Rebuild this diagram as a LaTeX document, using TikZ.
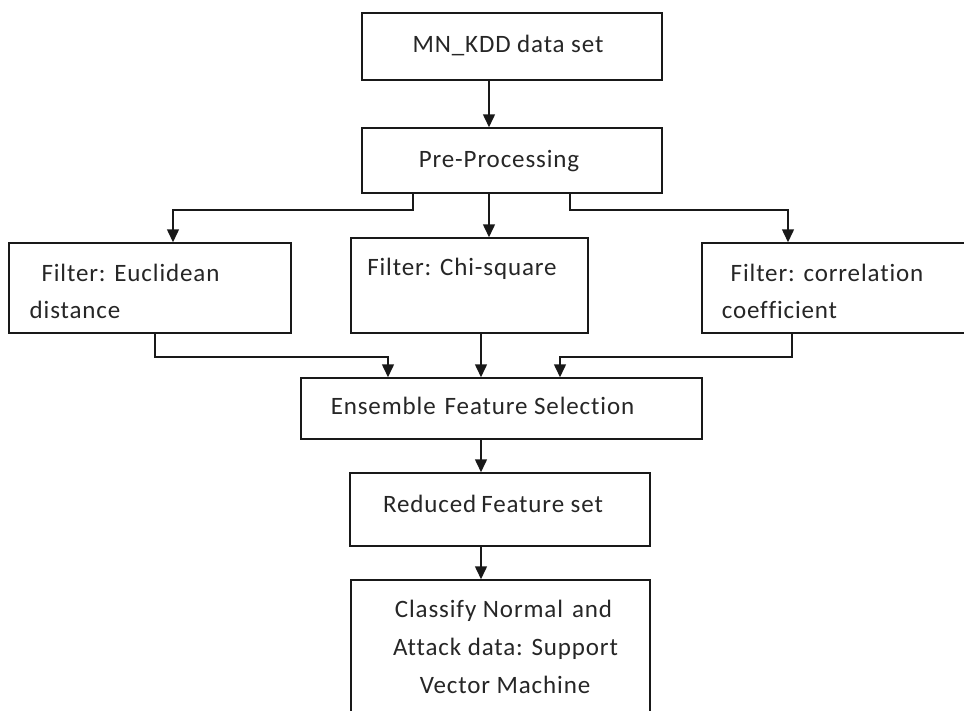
\documentclass[tikz,border=0pt]{standalone}
\usepackage{fontspec}
\setmainfont{Carlito}[Ligatures={NoCommon}, LetterSpace=3.5]
\usetikzlibrary{arrows.meta}
\begin{document}
\begin{tikzpicture}[x=1pt,y=-1pt,
  box/.style={draw=black!90, line width=1.5pt, inner sep=0pt, fill=white},
  lbl/.style={anchor=base, inner sep=0pt, font=\fontsize{25}{29}\selectfont, text=black!85},
  conn/.style={draw=black!90, line width=1.5pt},
  arr/.style={conn, -{Triangle[length=13pt,width=12pt]}}]
\useasboundingbox (0,0) rectangle (964,710);
\begin{scope}
\clip (0,0) rectangle (964,710);
% boxes
\node[box, minimum width=300pt, minimum height=67pt] (data) at (512,46.5) {};
\node[box, minimum width=300pt, minimum height=65pt] (pre) at (512,160.5) {};
\node[box, minimum width=282pt, minimum height=90pt] (eu) at (150,288) {};
\node[box, minimum width=237pt, minimum height=95pt] (chi) at (469.5,285.5) {};
\node[box, minimum width=268pt, minimum height=90pt] (cor) at (836,288) {};
\node[box, minimum width=401pt, minimum height=61pt] (ens) at (501.5,408.5) {};
\node[box, minimum width=300pt, minimum height=73pt] (red) at (500,509.5) {};
\node[box, minimum width=299pt, minimum height=135pt] (cls) at (500.5,647.5) {};
% texts
\node[lbl] (tdata) at (508,52) {MN\_KDD data set};
\node[lbl] (tpre) at (499,167) {Pre-Processing};
\node[lbl] (teu1) at (130.5,281) {Filter: Euclidean};
\node[lbl] (teu2) at (75,318) {distance};
\node[lbl] (tchi) at (462,275) {Filter: Chi-square};
\node[lbl] (tcor1) at (827,281) {Filter: correlation};
\node[lbl] (tcor2) at (779.5,318) {coefficient};
\node[lbl] (tens) at (482.5,414) {Ensemble\hspace{9pt}Feature Selection};
\node[lbl] (tred) at (493,512) {Reduced\hspace{5pt}Feature set};
\node[lbl] (tcls1) at (503.5,617) {Classify Normal\hspace{9pt}and};
\node[lbl] (tcls2) at (505.5,655) {Attack data: Support};
\node[lbl] (tcls3) at (505,693) {Vector Machine};
% connectors
\draw[arr] (data.south -| 489,0) -- (pre.north -| 489,0);
\draw[arr] (pre.south -| 413,0) -- (413,210) -| (eu.north -| 173,0);
\draw[arr] (pre.south -| 489,0) -- (chi.north -| 489,0);
\draw[arr] (pre.south -| 570,0) -- (570,210) -| (cor.north -| 788,0);
\draw[arr] (eu.south -| 155,0) -- (155,357) -| (ens.north -| 388,0);
\draw[arr] (chi.south -| 481,0) -- (ens.north -| 481,0);
\draw[arr] (cor.south -| 792,0) -- (792,357) -| (ens.north -| 560,0);
\draw[arr] (ens.south -| 481,0) -- (red.north -| 481,0);
\draw[arr] (red.south -| 481,0) -- (cls.north -| 481,0);
\end{scope}
\end{tikzpicture}
\end{document}
